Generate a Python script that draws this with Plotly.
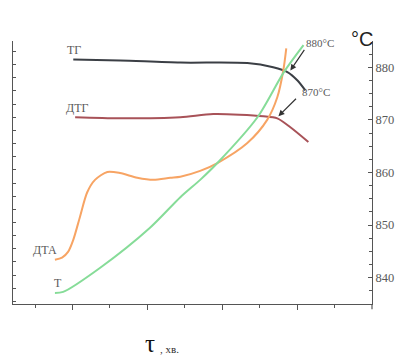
import plotly.graph_objects as go

# Data (x in time-tick units, y in °C on the right-hand scale)
tg_x = [1.02, 2.27, 3.88, 5.67, 6.36, 6.74, 7.01, 7.22]
tg_y = [881.5, 881.3, 880.9, 880.8, 880.0, 879.1, 877.5, 875.6]

dtg_x = [1.07, 2.27, 3.88, 4.76, 6.10, 6.47, 6.82, 7.30]
dtg_y = [870.5, 870.3, 870.5, 871.1, 870.7, 870.3, 868.6, 865.8]

dta_x = [0.53, 0.72, 0.88, 1.02, 1.20, 1.39, 1.60, 1.93, 2.27, 2.73, 3.16, 3.61, 3.88, 4.41, 4.87, 5.67, 6.20, 6.47, 6.63, 6.71]
dta_y = [843.4, 843.8, 844.9, 847.2, 851.6, 856.2, 858.6, 860.1, 859.9, 859.0, 858.6, 859.0, 859.2, 860.3, 861.8, 865.6, 870.0, 874.3, 879.4, 883.6]

t_x = [0.53, 0.75, 1.74, 3.07, 3.88, 4.41, 4.87, 5.94, 6.63, 7.17]
t_y = [837.1, 837.3, 841.9, 849.5, 855.3, 858.6, 861.8, 870.5, 878.9, 884.2]

y_ticks = [840, 850, 860, 870, 880]
y_ticklabels = ["840", "850", "860", "870", "880"]

serif = "Liberation Serif, DejaVu Serif, serif"
gray = "#5a5a5a"

fig = go.Figure()
series = [
    (tg_x, tg_y, "#3b3f45"),
    (dtg_x, dtg_y, "#a85258"),
    (dta_x, dta_y, "#f7a464"),
    (t_x, t_y, "#86dc98"),
]
for xs, ys, c in series:
    fig.add_trace(go.Scatter(x=xs, y=ys, mode="lines", line=dict(color=c, width=2, shape="spline", smoothing=0.8),
                             showlegend=False, hoverinfo="skip"))

# dummy trace for left axis
fig.add_trace(go.Scatter(x=[None], y=[None], yaxis="y2", showlegend=False))

# curve labels
labels = [("ТГ", 1.05, 883.2), ("ДТГ", 1.13, 872.2), ("ДТА", 0.27, 845.3), ("Т", 0.61, 839.0)]
for txt, x, y in labels:
    fig.add_annotation(x=x, y=y, text=txt, showarrow=False, font=dict(family=serif, size=12, color=gray))

# temperature callouts
fig.add_annotation(x=7.62, y=884.6, text="880°C", showarrow=False, font=dict(family=serif, size=11, color=gray))
fig.add_annotation(x=7.51, y=875.3, text="870°C", showarrow=False, font=dict(family=serif, size=11, color=gray))
fig.add_annotation(x=6.82, y=879.4, ax=7.22, ay=883.6, axref="x", ayref="y", text="", showarrow=True,
                   arrowhead=2, arrowsize=1, arrowwidth=1.2, arrowcolor="#333")
fig.add_annotation(x=6.50, y=870.7, ax=7.01, ay=874.3, axref="x", ayref="y", text="", showarrow=True,
                   arrowhead=2, arrowsize=1, arrowwidth=1.2, arrowcolor="#333")

# unit and axis title
fig.add_annotation(xref="paper", yref="paper", x=1.008, y=1.057, text="°C", showarrow=False,
                   font=dict(family="Liberation Sans, Arial, sans-serif", size=20, color="#222"))
fig.add_annotation(xref="paper", yref="paper", x=0.383, y=-0.15, yanchor="middle", xanchor="center",
                   text="τ", showarrow=False, font=dict(family=serif, size=25, color="#111"))
fig.add_annotation(xref="paper", yref="paper", x=0.405, y=-0.172, yanchor="middle", xanchor="left",
                   text=", хв.", showarrow=False, font=dict(family=serif, size=11, color="#333"))

# small extension of the right axis below the bottom axis
fig.add_shape(type="line", xref="paper", yref="paper", x0=1, x1=1, y0=0, y1=-0.02,
              line=dict(color="#555", width=1.2))

fig.update_layout(
    width=400, height=358,
    margin=dict(l=13, r=28, t=41, b=54, autoexpand=False),
    paper_bgcolor="white", plot_bgcolor="white",
    xaxis=dict(range=[-0.59, 9], showgrid=False, zeroline=False, showline=True, linecolor="#555", linewidth=1.2,
               ticks="outside", tickvals=[1, 3, 5, 7], ticklen=5, tickcolor="#555", showticklabels=False,
               minor=dict(tickvals=[0, 2, 4, 6, 8], ticks="outside", ticklen=3, tickcolor="#555")),
    yaxis=dict(range=[835, 885], side="right", showgrid=False, zeroline=False, showline=True, linecolor="#555",
               linewidth=1.2, ticks="inside", tickvals=y_ticks, ticktext=y_ticklabels, ticklen=4, tickcolor="#555",
               tickfont=dict(family=serif, size=12.5, color=gray),
               minor=dict(dtick=2.5, tick0=835, ticks="inside", ticklen=3, tickcolor="#555")),
    yaxis2=dict(range=[835, 885], overlaying="y", side="left", showgrid=False, zeroline=False, showline=True,
                linecolor="#555", linewidth=1.2, ticks="inside", tick0=835.5, dtick=2.5, ticklen=3,
                tickcolor="#555", showticklabels=False),
)

fig.write_html("out.html", config={"displayModeBar": False},
               post_script="document.body.style.margin='0';document.body.style.overflow='hidden';")
